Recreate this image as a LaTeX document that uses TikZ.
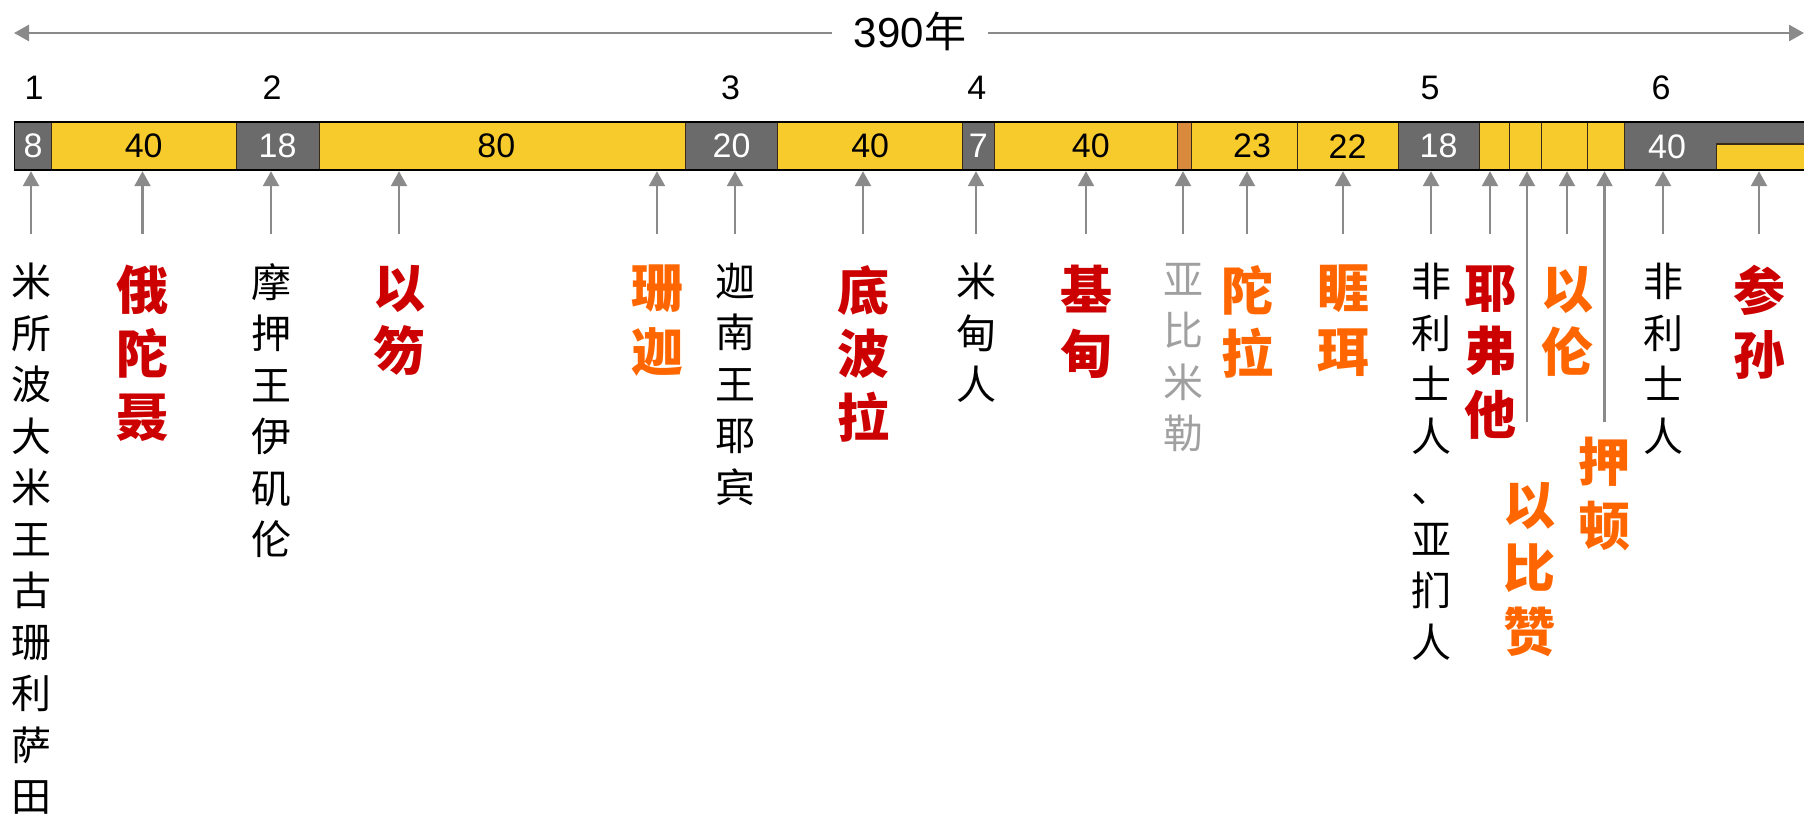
\documentclass[tikz,border=0pt]{standalone}
\usepackage{fontspec}
\setmainfont{Liberation Sans}
\newfontfamily\cjk{Noto Sans CJK SC}
\usetikzlibrary{arrows.meta,calc}
\definecolor{gboxc}{HTML}{6B6B6B}
\definecolor{yboxc}{HTML}{F8CB2D}
\definecolor{oboxc}{HTML}{D98A3C}
\definecolor{sepc}{HTML}{3A2A1A}
\definecolor{arrc}{HTML}{8A8A8A}
\definecolor{redc}{HTML}{CC0000}
\definecolor{orgc}{HTML}{FF6600}
\definecolor{gryc}{HTML}{A0A0A0}
\begin{document}
\begin{tikzpicture}[x=1pt,y=-1pt,
  seg/.style={draw=sepc,line width=1pt,minimum height=47pt,inner sep=0pt,anchor=west,font=\fontsize{34}{40}\selectfont},
  gseg/.style={seg,fill=gboxc,text=white},
  yseg/.style={seg,fill=yboxc,text=black},
  oseg/.style={seg,fill=oboxc},
  num/.style={font=\fontsize{34}{40}\selectfont,inner sep=0pt},
  arr/.style={draw=arrc,line width=2.3pt,-{Triangle[width=16pt,length=15pt]}},
  toparr/.style={draw=arrc,line width=2.6pt,-{Triangle[width=16pt,length=15pt]}},
  lab/.style={anchor=north,align=center,inner sep=0pt},
  blk/.style={lab,font=\cjk\fontsize{40}{51.5}\selectfont,text=black},
  redl/.style={lab,font=\cjk\bfseries\fontsize{52}{63.5}\selectfont,text=redc},
  orgl/.style={lab,font=\cjk\bfseries\fontsize{52}{63.5}\selectfont,text=orgc},
  gryl/.style={lab,font=\cjk\fontsize{40}{51.5}\selectfont,text=gryc}
]
\useasboundingbox (0,0) rectangle (1804,816);

% title arrow
\node[font=\fontsize{42}{48}\selectfont,inner xsep=22pt,inner ysep=0pt] (title) at (910,31) {390{\cjk 年}};
\coordinate (tl) at (14,33);
\coordinate (tr) at (1804,33);
\draw[toparr] (title.west |- tl) -- (tl);
\draw[toparr] (title.east |- tr) -- (tr);

% top numbers
\node[num] (n1) at (34,88) {1};
\node[num] (n2) at (272,88) {2};
\node[num] (n3) at (730.5,88) {3};
\node[num] (n4) at (976.7,88) {4};
\node[num] (n5) at (1430,88) {5};
\node[num] (n6) at (1661,88) {6};

% bar segments
\node[gseg,minimum width=36.4pt] (s1) at (14.3,146.2) {8};
\node[yseg,minimum width=185pt] (s2) at (50.7,146.2) {40};
\node[gseg,minimum width=82.9pt] (s3) at (235.7,146.2) {18};
\node[yseg,minimum width=366.4pt] (s4) at (318.6,146.2) {80\hspace*{12pt}};
\node[gseg,minimum width=92pt] (s5) at (685,146.2) {20};
\node[yseg,minimum width=185.3pt] (s6) at (777,146.2) {40};
\node[gseg,minimum width=31.2pt] (s7) at (962.3,146.2) {7};
\node[yseg,minimum width=183.5pt] (s8) at (993.5,146.2) {\hspace*{10pt}40};
\node[oseg,minimum width=13.5pt] (s9) at (1177,146.2) {};
\node[yseg,minimum width=106pt] (s10) at (1190.5,146.2) {\hspace*{16pt}23};
\node[yseg,minimum width=101pt] (s11) at (1296.5,146.2) {22};
\node[gseg,minimum width=81pt] (s12) at (1397.5,146.2) {18};
\node[yseg,minimum width=30pt] (s13) at (1478.5,146.2) {};
\node[yseg,minimum width=32pt] (s14) at (1508.5,146.2) {};
\node[yseg,minimum width=46pt] (s15) at (1540.5,146.2) {};
\node[yseg,minimum width=37pt] (s16) at (1586.5,146.2) {};
\node[gseg,minimum width=181pt] (s17) at (1623.5,146.2) {};
\node[font=\fontsize{34}{40}\selectfont,text=white,inner sep=0pt] (s17t) at (1667,146.5) {40};
\coordinate (yl) at (1716.7,144);
\fill[yboxc] (yl) rectangle (s17.south east);
\draw[sepc,line width=1.5pt] (yl |- s17.south) -- (yl) -- (yl -| s17.east);
\draw[black,line width=1.5pt] (s1.north west) rectangle (s17.south east);

% labels
\node[blk] (l1) at (31,263) {米\\所\\波\\大\\米\\王\\古\\珊\\利\\萨\\田};
\node[redl] (l2) at (142.5,265) {俄\\陀\\聂};
\node[blk] (l3) at (271,263) {摩\\押\\王\\伊\\矶\\伦};
\node[redl] (l4) at (399,265) {以\\笏};
\node[orgl] (l5) at (657,265) {珊\\迦};
\node[blk] (l6) at (735,263) {迦\\南\\王\\耶\\宾};
\node[redl] (l7) at (863,265) {底\\波\\拉};
\node[blk] (l8) at (976,263) {米\\甸\\人};
\node[redl] (l9) at (1086,265) {基\\甸};
\node[gryl] (l10) at (1183,263) {亚\\比\\米\\勒};
\node[orgl] (l11) at (1247,265) {陀\\拉};
\node[orgl] (l12) at (1343,265) {睚\\珥};
\node[blk] (l13) at (1431,263) {非\\利\\士\\人\\、\\亚\\扪\\人};
\node[redl] (l14) at (1490,265) {耶\\弗\\他};
\node[orgl] (l15) at (1529,482) {以\\比\\赞};
\node[orgl] (l16) at (1567,266) {以\\伦};
\node[orgl] (l17) at (1604,437) {押\\顿};
\node[blk] (l18) at (1663,263) {非\\利\\士\\人};
\node[redl] (l19) at (1759,265) {参\\孙};

% arrow starts
\coordinate (a1) at (31,234);
\coordinate (a2) at (142.5,234);
\coordinate (a3) at (271,234);
\coordinate (a4) at (399,234);
\coordinate (a4b) at (657,234);
\coordinate (a5) at (657,234);
\coordinate (a6) at (735,234);
\coordinate (a7) at (863,234);
\coordinate (a8) at (976,234);
\coordinate (a9) at (1086,234);
\coordinate (a10) at (1183,234);
\coordinate (a11) at (1247,234);
\coordinate (a12) at (1343,234);
\coordinate (a13) at (1431,234);
\coordinate (a14) at (1490,234);
\coordinate (a15) at (1527,422);
\coordinate (a16) at (1567,234);
\coordinate (a17) at (1604.5,422);
\coordinate (a18) at (1663,234);
\coordinate (a19) at (1759,234);
\foreach \i in {1,2,3,4,5,6,7,8,9,10,11,12,13,14,15,16,17,18,19}
  \draw[arr] (a\i) -- ($(a\i |- s1.south)+(0,1)$);
\end{tikzpicture}
\end{document}
